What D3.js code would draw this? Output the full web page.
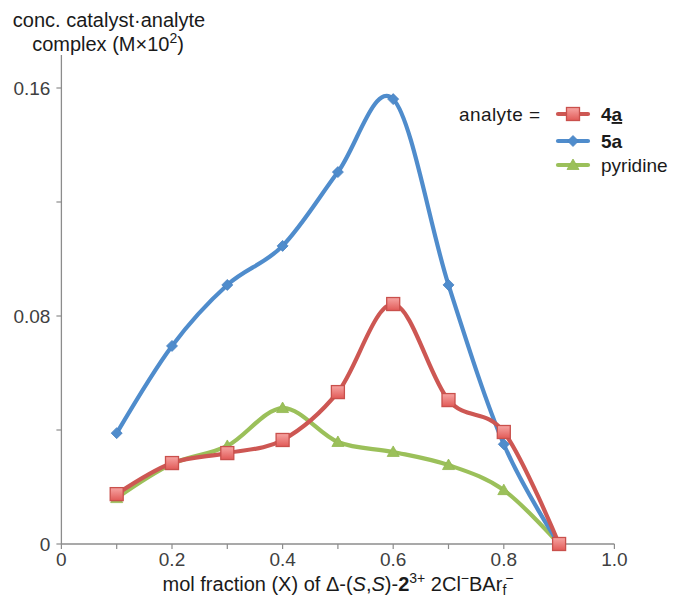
<!DOCTYPE html>
<html>
<head>
<meta charset="utf-8">
<script src="https://cdn.jsdelivr.net/npm/d3@7"></script>
<style>
  html, body { margin: 0; padding: 0; background: #fff; }
  svg { display: block; font-family: "Liberation Sans", Arial, sans-serif; }
</style>
</head>
<body>
<svg id="chart" width="674" height="598"></svg>
<script>
// mole fractions of the catalyst (Job plot)
const molFraction = [0.1, 0.2, 0.3, 0.4, 0.5, 0.6, 0.7, 0.8, 0.9];
// complex concentration for each analyte (M x 10^2)
const values4a = [0.0175, 0.0284, 0.0319, 0.0365, 0.0533, 0.0842, 0.0505, 0.0393, 0];
const values5a = [0.0389, 0.0695, 0.0909, 0.1046, 0.1305, 0.1561, 0.0909, 0.0350, 0];
const valuesPyridine = [0.0161, 0.0281, 0.0344, 0.0477, 0.0358, 0.0323, 0.0277, 0.0189, 0];
const xTickValues = [0, 0.2, 0.4, 0.6, 0.8, 1.0];
const xTickLabels = ["0", "0.2", "0.4", "0.6", "0.8", "1.0"];
const xMinorTicks = [0.1, 0.3, 0.5, 0.7, 0.9];
const yTickValues = [0, 0.08, 0.16];
const yTickLabels = ["0", "0.08", "0.16"];
const yMinorTicks = [0.04, 0.12];

const svg = d3.select("#chart");
const textColor = "#404040";
const titleColor = "#1a1a1a";
const axisColor = "#8c8c8c";

const x = d3.scaleLinear().domain([0, 1]).range([61.4, 614.4]);
const y = d3.scaleLinear().domain([0, 0.16]).range([544, 88]);
const yTop = 0.1716;

const series = [
  { key: "4a", values: values4a, color: "#cd5753", marker: "square" },
  { key: "5a", values: values5a, color: "#4f8ccc", marker: "diamond" },
  { key: "pyridine", values: valuesPyridine, color: "#9bc05a", marker: "triangle" }
];

// gradient for the square markers
const defs = svg.append("defs");
const g1 = defs.append("linearGradient").attr("id", "sqFill").attr("x1", 0).attr("y1", 0).attr("x2", 0).attr("y2", 1);
g1.append("stop").attr("offset", "0%").attr("stop-color", "#f7a5a3");
g1.append("stop").attr("offset", "100%").attr("stop-color", "#e15a57");

// axes
const axes = svg.append("g");
axes.append("line")
  .attr("x1", x(0)).attr("x2", x(0))
  .attr("y1", y(yTop)).attr("y2", y(0))
  .attr("stroke", axisColor).attr("stroke-width", 1.3);
axes.append("line")
  .attr("x1", x(0)).attr("x2", x(1))
  .attr("y1", y(0)).attr("y2", y(0))
  .attr("stroke", axisColor).attr("stroke-width", 1.3);

// y ticks (outside, left)
axes.selectAll(".ytick").data(yTickValues.concat(yMinorTicks)).join("line")
  .attr("x1", x(0) - 5).attr("x2", x(0))
  .attr("y1", d => y(d)).attr("y2", d => y(d))
  .attr("stroke", axisColor).attr("stroke-width", 1.2);
axes.selectAll(".ylab").data(yTickValues).join("text")
  .attr("x", x(0) - 11).attr("y", d => y(d))
  .attr("dy", "0.36em")
  .attr("text-anchor", "end")
  .attr("font-size", 19)
  .attr("fill", textColor)
  .text((d, i) => yTickLabels[i]);

// x ticks (below)
axes.selectAll(".xtick").data(xTickValues.concat(xMinorTicks)).join("line")
  .attr("x1", d => x(d)).attr("x2", d => x(d))
  .attr("y1", y(0)).attr("y2", y(0) + 5)
  .attr("stroke", axisColor).attr("stroke-width", 1.2);
axes.selectAll(".xlab").data(xTickValues).join("text")
  .attr("x", d => x(d)).attr("y", 566)
  .attr("text-anchor", "middle")
  .attr("font-size", 19)
  .attr("fill", textColor)
  .text((d, i) => xTickLabels[i]);

// y axis title
const yTitle = svg.append("text")
  .attr("font-size", 20).attr("fill", titleColor).attr("text-anchor", "middle");
yTitle.append("tspan").attr("x", 109).attr("y", 27).text("conc. catalyst\u00b7analyte");
yTitle.append("tspan").attr("x", 108).attr("y", 51).text("complex (M\u00d710");
yTitle.append("tspan").attr("dy", -8).attr("font-size", 14).text("2");
yTitle.append("tspan").attr("dy", 8).text(")");

// x axis title
const xTitle = svg.append("text")
  .attr("x", 338).attr("y", 591)
  .attr("font-size", 20).attr("fill", titleColor).attr("text-anchor", "middle");
xTitle.append("tspan").text("mol fraction (X) of \u0394-(");
xTitle.append("tspan").attr("font-style", "italic").text("S");
xTitle.append("tspan").text(",");
xTitle.append("tspan").attr("font-style", "italic").text("S");
xTitle.append("tspan").text(")-");
xTitle.append("tspan").attr("font-weight", "bold").text("2");
xTitle.append("tspan").attr("dy", -8).attr("font-size", 14).text("3+");
xTitle.append("tspan").attr("dy", 8).text(" 2Cl");
xTitle.append("tspan").attr("dy", -8).attr("font-size", 14).text("\u2212");
xTitle.append("tspan").attr("dy", 8).text("BAr");
xTitle.append("tspan").attr("dy", 4).attr("font-size", 14).text("f");
xTitle.append("tspan").attr("dx", -1).attr("dy", -12).attr("font-size", 14).text("\u2212");

// smoothed series lines
const line = d3.line()
  .x((d, i) => x(molFraction[i]))
  .y(d => y(d))
  .curve(d3.curveCardinal.tension(0));

const plot = svg.append("g");
// pyridine underneath, 4a on top
const drawOrder = [series[2], series[1], series[0]];
plot.selectAll(".series").data(drawOrder).join("path")
  .attr("d", s => line(s.values))
  .attr("fill", "none")
  .attr("stroke", s => s.color)
  .attr("stroke-width", 4.2)
  .attr("stroke-linejoin", "round")
  .attr("stroke-linecap", "round");

function drawMarker(g, type, cx, cy, color) {
  if (type === "square") {
    g.append("rect")
      .attr("x", cx - 6.5).attr("y", cy - 6.5)
      .attr("width", 13).attr("height", 13)
      .attr("fill", "url(#sqFill)")
      .attr("stroke", "#c9504c").attr("stroke-width", 1.3);
  } else if (type === "diamond") {
    const r = 5.5;
    g.append("path")
      .attr("d", `M${cx},${cy - r}L${cx + r},${cy}L${cx},${cy + r}L${cx - r},${cy}Z`)
      .attr("fill", color).attr("stroke", "#4a82c0").attr("stroke-width", 0.8);
  } else {
    const r = 6;
    g.append("path")
      .attr("d", `M${cx},${cy - r}L${cx + r},${cy + r * 0.75}L${cx - r},${cy + r * 0.75}Z`)
      .attr("fill", color).attr("stroke", "#93b852").attr("stroke-width", 0.8);
  }
}

drawOrder.forEach(s => {
  const g = plot.append("g");
  s.values.forEach((v, i) => drawMarker(g, s.marker, x(molFraction[i]), y(v), s.color));
});

// legend
const legend = svg.append("g");
legend.append("text")
  .attr("x", 459).attr("y", 121)
  .attr("font-size", 19).attr("fill", titleColor)
  .attr("textLength", 81).attr("lengthAdjust", "spacing")
  .text("analyte =");
const rowsY = [114, 141, 165];
series.forEach((s, i) => {
  const ly = rowsY[i];
  legend.append("line")
    .attr("x1", 558).attr("x2", 588).attr("y1", ly).attr("y2", ly)
    .attr("stroke", s.color).attr("stroke-width", 4.2).attr("stroke-linecap", "round");
  drawMarker(legend, s.marker, 573, ly, s.color);
  const t = legend.append("text")
    .attr("x", 601).attr("y", ly + 7)
    .attr("font-size", 19).attr("fill", titleColor);
  if (s.key === "4a") {
    t.attr("font-weight", "bold");
    t.append("tspan").text("4");
    t.append("tspan").attr("text-decoration", "underline").text("a");
  } else if (s.key === "5a") {
    t.attr("font-weight", "bold").text("5a");
  } else {
    t.text(s.key);
  }
});
</script>
</body>
</html>
